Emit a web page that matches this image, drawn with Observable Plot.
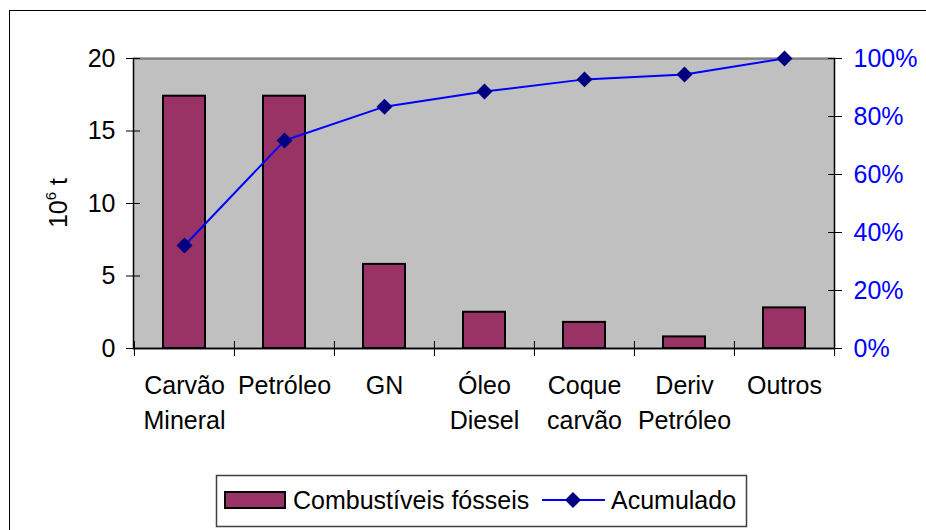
<!DOCTYPE html>
<html><head><meta charset="utf-8">
<script src="https://cdn.jsdelivr.net/npm/d3@7"></script>
<script src="https://cdn.jsdelivr.net/npm/@observablehq/plot@0.6"></script>
<style>html,body{margin:0;padding:0;background:#fff;overflow:hidden} svg{display:block}</style>
</head><body><div id="chart"></div>
<script>
// ---- data ----
const categories = ["Carvão Mineral", "Petróleo", "GN", "Óleo Diesel", "Coque carvão", "Deriv Petróleo", "Outros"];
const fossilFuels = [17.4, 17.4, 5.8, 2.5, 1.8, 0.8, 2.8];          // 10^6 t
const cumulativePct = [35.5, 71.7, 83.4, 88.6, 92.8, 94.5, 100];    // %
const leftTicks = [0, 5, 10, 15, 20];
const rightTicks = [0, 20, 40, 60, 80, 100];
const seriesBar = "Combustíveis fósseis";
const seriesLine = "Acumulado";

// ---- layout ----
const W = 926, H = 530, mL = 133, mR = 92, mT = 58, mB = 182;
const step = (W - mL - mR) / categories.length;
const pctToY = p => p / 5; // 100% maps to 20 on the left scale
const font = "'Liberation Sans', Arial, sans-serif";

const rows = categories.map((c, i) => ({c, v: fossilFuels[i], p: cumulativePct[i]}));

const chart = Plot.plot({
  width: W, height: H,
  marginLeft: mL, marginRight: mR, marginTop: mT, marginBottom: mB,
  style: {fontFamily: font, fontSize: "25px", background: "white", overflow: "hidden", color: "#000"},
  x: {domain: categories, paddingInner: 0.58, paddingOuter: 0.29, axis: null},
  y: {domain: [0, 20], axis: null},
  marks: [
    Plot.frame({fill: "#c0c0c0", stroke: "#000", strokeWidth: 1.5}),
    Plot.ruleY([20], {stroke: "#808080", strokeWidth: 1.5}),
    Plot.barY(rows, {x: "c", y: "v", fill: "#993366", stroke: "#000", strokeWidth: 2}),
    Plot.ruleY([0], {stroke: "#000", strokeWidth: 1.5}),
    // left axis
    Plot.axisY(leftTicks, {anchor: "left", tickSize: 14, dx: 7, fill: "none", label: null, stroke: "#000"}),
    Plot.axisY(leftTicks, {anchor: "left", tickSize: 0, tickPadding: 18, fill: "#000", label: null}),
    // right axis
    Plot.axisY(rightTicks.map(pctToY), {anchor: "right", tickSize: 14, dx: -7, fill: "none", label: null, stroke: "#000"}),
    Plot.axisY(rightTicks.map(pctToY), {anchor: "right", tickSize: 0, tickPadding: 19, fill: "#0000ff", label: null,
      tickFormat: d => `${Math.round(d * 5)}%`}),
    // x axis ticks at band edges
    Plot.axisX(categories, {anchor: "bottom", tickSize: 15, dy: -7, dx: -step / 2, fill: "none", label: null, stroke: "#000"}),
    Plot.axisX(categories.slice(-1), {anchor: "bottom", tickSize: 15, dy: -7, dx: step / 2, fill: "none", label: null, stroke: "#000"}),
    Plot.axisX(categories, {anchor: "bottom", tickSize: 0, tickPadding: 21, fill: "#000", label: null, lineHeight: 1.4,
      tickFormat: c => c.replace(" ", "\n")}),
    // cumulative line
    Plot.line(rows, {x: "c", y: d => pctToY(d.p), stroke: "#0000ff", strokeWidth: 2}),
    Plot.dot(rows, {x: "c", y: d => pctToY(d.p), symbol: "diamond2", r: 7.2, fill: "#000080", stroke: "none"})
  ]
});

const svg = d3.select(chart);

// y label 10^6 t
const yl = svg.append("text")
  .attr("transform", "translate(67,203) rotate(-90)")
  .attr("text-anchor", "middle")
  .attr("font-family", font).attr("font-size", 25).attr("fill", "#000");
yl.append("tspan").text("10");
yl.append("tspan").attr("font-size", 15).attr("dy", -11).text("6");
yl.append("tspan").attr("dy", 11).text(" t");

// legend
const lg = svg.append("g").attr("font-family", font).attr("font-size", 25).attr("text-anchor", "start");
lg.append("rect").attr("x", 216.5).attr("y", 475.5).attr("width", 530).attr("height", 51)
  .attr("fill", "white").attr("stroke", "#404040").attr("stroke-width", 1.5);
lg.append("rect").attr("x", 225).attr("y", 492).attr("width", 60).attr("height", 16)
  .attr("fill", "#993366").attr("stroke", "#000").attr("stroke-width", 2);
lg.append("text").attr("x", 293).attr("y", 509).attr("fill", "#000").attr("text-anchor", "start").text(seriesBar);
lg.append("line").attr("x1", 542).attr("x2", 605).attr("y1", 500).attr("y2", 500)
  .attr("stroke", "#0000ff").attr("stroke-width", 2);
lg.append("path").attr("d", d3.symbol(d3.symbolDiamond2, Math.PI * 7.2 * 7.2)()).attr("transform", "translate(573,500)")
  .attr("fill", "#000080");
lg.append("text").attr("x", 611).attr("y", 509).attr("fill", "#000").attr("text-anchor", "start").text(seriesLine);

// outer chart border (extends past the right and bottom edges of the picture)
svg.append("rect").attr("x", 9.5).attr("y", 10.5).attr("width", 930).attr("height", 530)
  .attr("fill", "none").attr("stroke", "#000").attr("stroke-width", 1);

document.getElementById("chart").appendChild(chart);
</script>
</body></html>
